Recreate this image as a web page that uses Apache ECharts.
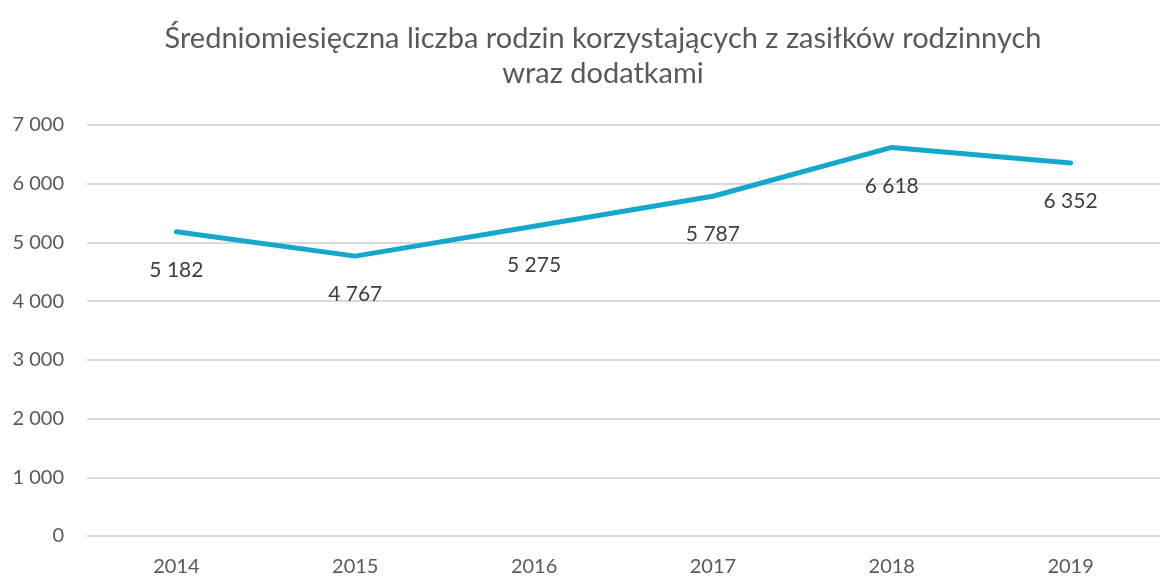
<!DOCTYPE html>
<html>
<head>
<meta charset="utf-8">
<script src="https://cdn.jsdelivr.net/npm/echarts@6/dist/echarts.min.js"></script>
<style>
  html, body { margin: 0; padding: 0; background: #fff; }
  #main { width: 1160px; height: 577px; }
</style>
</head>
<body>
<div id="main"></div>
<script>
// dane z wykresu
var years = ['2014', '2015', '2016', '2017', '2018', '2019'];
var families = [5182, 4767, 5275, 5787, 6618, 6352];
var yTicks = [0, 1000, 2000, 3000, 4000, 5000, 6000, 7000];

function fmt(v) {
    // separator tysięcy spacją, jak w oryginale
    return String(v).replace(/\B(?=(\d{3})+(?!\d))/g, ' ');
}

var myChart = echarts.init(document.getElementById('main'));
var option = {
    backgroundColor: '#fff',
    textStyle: { fontFamily: 'Lato, "Open Sans", sans-serif' },
    title: {
        text: 'Średniomiesięczna liczba rodzin korzystających z zasiłków rodzinnych\nwraz dodatkami',
        left: 598,
        textAlign: 'center',
        top: 16,
        textStyle: {
            color: '#595959',
            fontSize: 29,
            fontWeight: 'normal',
            lineHeight: 35,
            fontFamily: 'Lato, "Open Sans", sans-serif'
        }
    },
    grid: {
        left: 87,
        right: -14,
        top: 125,
        bottom: 41
    },
    xAxis: {
        type: 'category',
        data: years,
        boundaryGap: true,
        axisLine: { show: false },
        axisTick: { show: false },
        axisLabel: {
            color: '#595959',
            fontSize: 20,
            margin: 21
        }
    },
    yAxis: {
        type: 'value',
        min: yTicks[0],
        max: yTicks[yTicks.length - 1],
        interval: 1000,
        axisLine: { show: false },
        axisTick: { show: false },
        splitLine: {
            lineStyle: { color: '#d9d9d9', width: 2 }
        },
        axisLabel: {
            color: '#595959',
            fontSize: 20,
            margin: 23,
            formatter: fmt
        }
    },
    series: [{
        type: 'line',
        data: families,
        symbol: 'circle',
        symbolSize: 0,
        showSymbol: true,
        lineStyle: { color: '#14a8cc', width: 5, cap: 'round', join: 'round' },
        itemStyle: { color: '#14a8cc' },
        label: {
            show: true,
            position: 'bottom',
            distance: 28,
            color: '#404040',
            fontSize: 21,
            formatter: function (p) { return fmt(p.value); }
        }
    }]
};
myChart.setOption(option);
</script>
</body>
</html>
